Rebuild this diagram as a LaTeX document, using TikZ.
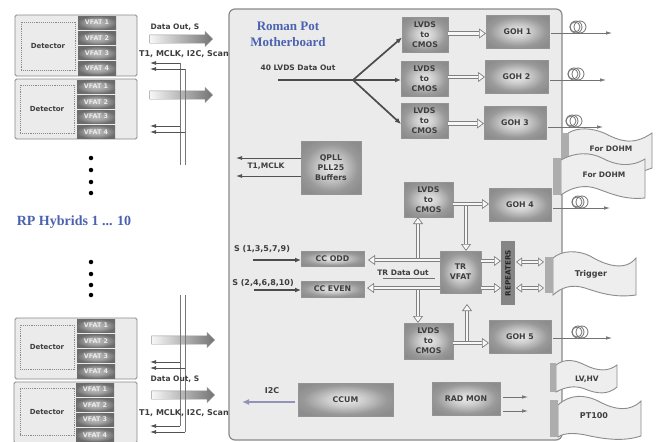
\documentclass[tikz,border=0pt]{standalone}
\usepackage{fontspec}
\setmainfont{DejaVu Sans}
\newfontfamily\titlefont{Liberation Serif}
\usetikzlibrary{arrows.meta,shapes.arrows,calc}
\definecolor{txt}{HTML}{3E3E3E}
\definecolor{edge}{HTML}{8A8A8A}
\definecolor{boardfill}{HTML}{EBEBEB}
\definecolor{flagfill}{HTML}{EEEEEE}
\definecolor{titleblue}{HTML}{4A62B0}
\definecolor{lineg}{HTML}{777777}
\pgfdeclareradialshading{glowbox}{\pgfpointorigin}{%
  color(0bp)=(white!92!black); color(10bp)=(white!80!black); color(22bp)=(white!60!black); color(30bp)=(white!55!black); color(50bp)=(white!55!black)}
\pgfdeclareradialshading{glowdark}{\pgfpointorigin}{%
  color(0bp)=(white!75!black); color(14bp)=(white!62!black); color(26bp)=(white!42!black); color(50bp)=(white!42!black)}
\newcommand{\Blk}[7]{% name, x0,y0,x1,y1, style, text
  \pgfmathsetmacro{\cxx}{(#2+#4)/2}\pgfmathsetmacro{\cyy}{(#3+#5)/2}%
  \pgfmathsetmacro{\www}{#4-#2}\pgfmathsetmacro{\hhh}{#5-#3}%
  \node[#6,minimum width=\www pt,minimum height=\hhh pt] (#1) at (\cxx,\cyy) {#7};}
\newcommand{\Hybrid}[9]{% prefix, outer x0,y0,x1,y1, det x0 y0 x1 y1
  \Blk{#1}{#2}{#3}{#4}{#5}{hybridbox}{}%
  \Blk{#1d}{#6}{#7}{#8}{#9}{detbox}{Detector}}
\newcommand{\Vfats}[6]{% prefix, x0, x1, y1, y2, y3 (y4 = y3+15)
  \pgfmathsetmacro{\xa}{#2}\pgfmathsetmacro{\xb}{#3}%
  \pgfmathsetmacro{\ya}{#4}\pgfmathsetmacro{\yb}{#5}\pgfmathsetmacro{\yc}{#6}\pgfmathsetmacro{\yd}{#6+15.2}%
  \Blk{#1a}{\xa}{\ya}{\xb}{\ya+13.3}{vfat}{VFAT 1}%
  \Blk{#1b}{\xa}{\yb}{\xb}{\yb+13.3}{vfat}{VFAT 2}%
  \Blk{#1c}{\xa}{\yc}{\xb}{\yc+13.3}{vfat}{VFAT 3}%
  \Blk{#1e}{\xa}{\yd}{\xb}{\yd+13.3}{vfat}{VFAT 4}}
\tikzset{
  x=1pt,y=-1pt,
  every node/.style={font=\bfseries\fontsize{6.3}{8.2}\selectfont,text=txt,align=center,inner sep=0pt,outer sep=0pt},
  hybridbox/.style={draw=edge,line width=.9pt,fill=boardfill,rounded corners=1.5pt},
  detbox/.style={draw=edge,densely dotted,line width=.9pt,fill=boardfill,font=\bfseries\fontsize{7}{9}\selectfont},
  vfat/.style={shading=glowdark,font=\bfseries\fontsize{6.4}{7}\selectfont,text=white!92!black},
  gbox/.style={shading=glowbox,draw=white!58!black,line width=.4pt},
  blocktext/.style={font=\bfseries\fontsize{7.8}{10}\selectfont},
  fatarrow/.style={single arrow,minimum height=63pt,minimum width=15pt,inner ysep=4pt,inner xsep=0pt,single arrow head extend=3.4pt,single arrow head indent=0pt,draw=white!60!black,line width=.4pt,left color=white!97!black,right color=white!45!black},
  thin/.style={draw=lineg,line width=.9pt},
  thinarrow/.style={draw=lineg!70!black,line width=.8pt,-{Latex[length=6pt,width=4pt]}},
  hollow/.style={draw=white!50!black,line width=.7pt,double=white!97!black,double distance=2.8pt,-{Triangle[open,length=7pt,width=10pt,fill=white!97!black,line width=.7pt]}},
  hollowboth/.style={draw=white!50!black,line width=.7pt,double=white!97!black,double distance=2.8pt,{Triangle[open,length=6pt,width=9pt,fill=white!97!black,line width=.7pt]}-{Triangle[open,length=6pt,width=9pt,fill=white!97!black,line width=.7pt]}},
  darkline/.style={draw=white!30!black,line width=1.7pt,-{Latex[length=6pt,width=5pt]}},
  fibre/.style={draw=white!45!black,line width=.7pt,-{Latex[length=6pt,width=3.5pt]}},
  coil/.style={draw=white!45!black,line width=.8pt},
  flag/.style={draw=white!55!black,line width=.9pt,fill=flagfill},
  connbar/.style={fill=white!68!black},
  hdot/.style={circle,fill=black,minimum size=4.5pt},
  titletext/.style={font=\titlefont\bfseries\fontsize{13}{16}\selectfont,text=titleblue},
  lbl/.style={font=\bfseries\fontsize{7.5}{9}\selectfont,text=txt},
  widelbl/.style={font=\bfseries\fontsize{8}{10}\selectfont,text=txt},
}
\begin{document}
\begin{tikzpicture}
\useasboundingbox (0,0) rectangle (659,442);
\fill[white] (0,0) rectangle (659,442);
% board
\Blk{board}{229}{9}{562}{440}{draw=edge,line width=1.2pt,fill=boardfill,rounded corners=6pt}{}
% hybrids
\Hybrid{ha}{15}{15}{137}{76}{21}{22}{75}{70}
\Vfats{va}{78}{116}{16}{31.3}{46.5}
\Hybrid{hb}{15}{79}{137}{139}{20}{85}{74}{133}
\Vfats{vb}{77}{115}{80}{95}{110}
\Hybrid{hc}{15}{318}{137}{379}{20}{325}{74}{369}
\Vfats{vc}{77}{115}{319}{334.2}{349.5}
\Hybrid{hd}{14}{382}{137}{443}{20}{388}{74}{435}
\Vfats{vd}{76}{114}{383}{398}{413}
% fat arrows
\node[fatarrow] (fa) at (179,39) {};
\node[fatarrow] (fb) at (179,95) {};
\node[fatarrow] (fc) at (181,340) {};
\node[fatarrow] (fd) at (181,395) {};
% thin bus
\coordinate (busaT) at (180,63);
\coordinate (busbT) at (185,69);
\coordinate (busaM) at (180,165);
\coordinate (busbM) at (185,165);
\coordinate (busaB) at (180,295);
\coordinate (busbB) at (185,295);
\coordinate (busaE) at (180,426);
\coordinate (busbE) at (185,432);
\draw[thin] (busaT) -- (busaM);
\draw[thin] (busbT) -- (busbM);
\draw[thin] (busaB) -- (busaE);
\draw[thin] (busbB) -- (busbE);
\foreach \n/\xe/\yy in {a1/180/63,a2/185/69,a3/180/126,a4/185/132,b1/180/362,b2/185/368,b3/180/426,b4/185/432}{
  \coordinate (s\n) at (\xe,\yy);
  \coordinate (t\n) at (150,\yy);
  \draw[thinarrow] (s\n) -- (t\n);
}
% dots
\foreach \n/\yy in {a/158,b/170,c/182,d/193,e/262,f/274,g/285,h/295}{
  \node[hdot] (dot\n) at (91,\yy) {};
}
% side labels
\node[font=\titlefont\bfseries\fontsize{14}{16}\selectfont,text=titleblue] (hyb) at (74,222) {RP Hybrids 1 ... 10};
\node[lbl] (l1) at (175,27) {Data Out, S};
\node[widelbl] (l2) at (184,54) {T1, MCLK, I2C, Scan};
\node[lbl] (l3) at (175,379) {Data Out, S};
\node[widelbl] (l4) at (184,413) {T1, MCLK, I2C, Scan};
% board title
\node[titletext] (title) at (288,34) {Roman Pot\\Motherboard};
\node[lbl] (l5) at (298,68) {40 LVDS Data Out};
% blocks
\Blk{lvdsa}{402}{17}{448}{52}{gbox,blocktext}{LVDS\\to\\CMOS}
\Blk{lvdsb}{401}{61}{448}{96}{gbox,blocktext}{LVDS\\to\\CMOS}
\Blk{lvdsc}{401}{103}{448}{138}{gbox,blocktext}{LVDS\\to\\CMOS}
\Blk{lvdsd}{404}{182}{453}{217}{gbox,blocktext}{LVDS\\to\\CMOS}
\Blk{lvdse}{404}{323}{453}{359}{gbox,blocktext}{LVDS\\to\\CMOS}
\Blk{goha}{486}{15}{549}{48}{gbox,blocktext}{GOH 1}
\Blk{gohb}{485}{60}{548}{93}{gbox,blocktext}{GOH 2}
\Blk{gohc}{484}{106}{546}{139}{gbox,blocktext}{GOH 3}
\Blk{gohd}{489}{188}{551}{221}{gbox,blocktext}{GOH 4}
\Blk{gohe}{489}{320}{551}{353}{gbox,blocktext}{GOH 5}
\Blk{qpll}{301}{141}{361}{194}{gbox,blocktext}{QPLL\\PLL25\\Buffers}
\Blk{ccodd}{301}{251}{364}{266}{gbox,blocktext}{CC ODD}
\Blk{cceven}{301}{281}{364}{297}{gbox,blocktext}{CC EVEN}
\Blk{ccum}{298}{383}{393}{416}{gbox,blocktext}{CCUM}
\Blk{radmon}{432}{382}{500}{415}{gbox,blocktext}{RAD MON}
\Blk{trv}{440}{251}{481}{293}{gbox,blocktext}{TR\\VFAT}
\Blk{rep}{501}{241}{515}{305}{fill=white!52!black}{}
\node[rotate=90,font=\bfseries\fontsize{7.2}{8}\selectfont,text=white!15!black] (reptxt) at (508,273) {REPEATERS};
% 40 LVDS fan-out
\coordinate (fstart) at (278,80);
\coordinate (hub) at (353,80);
\draw[draw=white!30!black,line width=1.7pt] (fstart) -- (hub);
\draw[darkline] (hub) -- ([yshift=-3pt]lvdsa.west);
\draw[darkline,line width=1.2pt] (hub) -- (hub -| lvdsb.west);
\draw[darkline] (hub) -- ([yshift=-3.5pt]lvdsc.west);
% hollow LVDS -> GOH
\draw[hollow] ([yshift=1pt]lvdsa.east) -- ([yshift=1pt]lvdsa.east -| goha.west);
\draw[hollow] ([yshift=1.5pt]lvdsb.east) -- ([yshift=1.5pt]lvdsb.east -| gohb.west);
\draw[hollow] ([yshift=-3pt]lvdsc.east) -- ([yshift=-3pt]lvdsc.east -| gohc.west);
\coordinate (junctA) at (466,204);
\coordinate (junctB) at (467,343);
\draw[hollow] (junctA) -- (junctA |- trv.north);
\draw[hollow] (junctB) -- (junctB |- 0,304);
\draw[hollow] (lvdsd.east |- junctA) -- (junctA -| gohd.west);
\draw[hollow] (lvdse.east |- junctB) -- (junctB -| gohe.west);
% TR data out
\coordinate (oddy) at (440,260);
\coordinate (eveny) at (440,288);
\coordinate (crossa) at (418,260);
\coordinate (crossb) at (418,288);
\draw[hollow] (crossa) -- (crossa |- lvdsd.south);
\draw[hollow] (crossb) -- (crossb |- lvdse.north);
\draw[hollow] (oddy) -- (368,260);
\draw[hollow] (eveny) -- (367,288);
\node[lbl] (l6) at (403,273) {TR Data Out};
\coordinate (ula) at (383,278);
\coordinate (ulb) at (435,278);
\draw[draw=white!45!black,line width=.6pt] (ula) -- (ulb);
% TR -> repeaters -> trigger
\coordinate (trya) at (481,261);
\coordinate (tryb) at (481,288);
\draw[hollow] (trya) -- (trya -| rep.west);
\draw[hollow] (tryb) -- (tryb -| rep.west);
\coordinate (repa) at (516,262);
\coordinate (repb) at (516,288);
\coordinate (repa2) at (544,262);
\coordinate (repb2) at (544,288);
\draw[hollowboth] (repa) -- (repa2);
\draw[hollowboth] (repb) -- (repb2);
% QPLL left
\coordinate (qa) at (236,158);
\coordinate (qb) at (236,176);
\draw[thinarrow] (qa -| qpll.west) -- (qa);
\draw[thinarrow] (qb -| qpll.west) -- (qb);
\node[lbl] (l7) at (266,166) {T1,MCLK};
% S inputs
\node[widelbl] (l8) at (262,249) {S (1,3,5,7,9)};
\node[widelbl] (l9) at (263,283) {S (2,4,6,8,10)};
\coordinate (sa) at (253,260);
\coordinate (sb) at (254,290);
\draw[darkline,line width=1.3pt] (sa) -- (sa -| ccodd.west);
\draw[darkline,line width=1.3pt] (sb) -- (sb -| cceven.west);
% I2C
\node[widelbl] (l10) at (272,391) {I2C};
\coordinate (ia) at (295,402);
\coordinate (ib) at (242,402);
\draw[draw=white!68!black!85!blue,line width=2pt,-{Latex[length=7pt,width=6pt]}] (ia) -- (ib);
% rad mon
\coordinate (ra) at (528,397);
\coordinate (rb) at (528,411);
\draw[fibre] (ra -| radmon.east) ++(3,0) -- (ra);
\draw[fibre] (rb -| radmon.east) ++(3,0) -- (rb);
% fibres
\foreach \g/\yy/\xe/\cc in {goha/33/612/575,gohb/80/606/573,gohc/127/603/571,gohd/208/610/577,gohe/338/612/577}{
  \coordinate (fe\g) at (\xe,\yy);
  \draw[fibre] ([xshift=2pt]fe\g -| \g.east) -- (fe\g);
  \coordinate (cc\g) at (\cc,\yy-6);
  \draw[coil] (cc\g) circle[radius=5];
  \draw[coil] ([xshift=5pt]cc\g) circle[radius=6];
  \draw[coil] ([xshift=1pt]cc\g) circle[radius=6];
}
% flags
\draw[flag] (568,133) .. controls (578,127) and (592,128) .. (604,133) .. controls (618,140) and (632,147) .. (652,133) -- (652,168) -- (630,176) -- (568,176) -- cycle;
\fill[connbar] (561,133) rectangle (569,158);
\draw[flag] (561,160) .. controls (575,152) and (590,152) .. (602,158) .. controls (615,165) and (630,168) .. (645,159) -- (645,198) .. controls (625,200) and (612,194) .. (598,189) .. controls (585,184) and (572,187) .. (561,195) -- cycle;
\fill[connbar] (553,158) rectangle (561,195);
\node[lbl] (d1) at (611,149) {For DOHM};
\node[lbl] (d2) at (604,175) {For DOHM};
\draw[flag] (553,258) .. controls (562,250) and (578,250) .. (590,256) .. controls (605,265) and (625,272) .. (636,258) -- (636,295) .. controls (615,298) and (600,293) .. (585,288) .. controls (572,284) and (562,287) .. (553,295) -- cycle;
\fill[connbar] (545,257) rectangle (553,293);
\node[widelbl] (d3) at (591,274) {Trigger};
\draw[flag] (556,365) .. controls (565,358) and (575,360) .. (585,365) .. controls (597,371) and (608,372) .. (617,365) -- (617,387) .. controls (608,395) and (597,394) .. (585,389) .. controls (575,385) and (565,387) .. (556,392) -- cycle;
\fill[connbar] (550,363) rectangle (556,392);
\node[lbl] (d4) at (587,379) {LV,HV};
\draw[flag] (558,405) .. controls (570,394) and (585,394) .. (600,402) .. controls (615,410) and (630,412) .. (641,401) -- (641,436) .. controls (625,441) and (610,440) .. (590,436) .. controls (578,433) and (565,432) .. (558,437) -- cycle;
\fill[connbar] (550,400) rectangle (558,437);
\node[widelbl] (d5) at (594,416) {PT100};
\end{tikzpicture}
\end{document}
